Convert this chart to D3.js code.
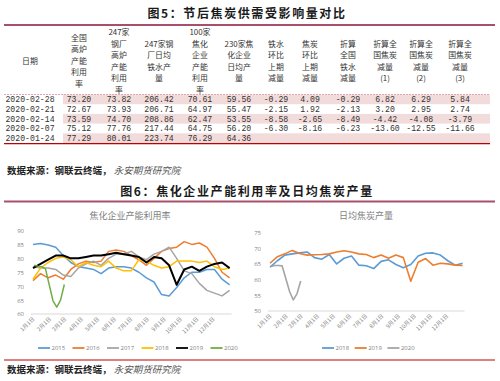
<!DOCTYPE html>
<html><head><meta charset="utf-8">
<script src="https://cdn.jsdelivr.net/npm/d3@7"></script>
<style>body{margin:0;background:#fff}svg{display:block}</style>
</head><body><svg id="c" width="500" height="381"></svg>
<script>
// ---------- DATA ----------
const tableHeaders = [
  ["日期"],
  ["全国","高炉","产能","利用","率"],
  ["247家","钢厂","高炉","产能","利用","率"],
  ["247家钢","厂日均","铁水产","量"],
  ["100家","焦化","企业","产能","利用","率"],
  ["230家焦","化企业","日均产","量"],
  ["铁水","环比","上期","减量"],
  ["焦炭","环比","上期","减量"],
  ["折算","全国","铁水","减量"],
  ["折算全","国焦炭","减量","(1)"],
  ["折算全","国焦炭","减量","(2)"],
  ["折算全","国焦炭","减量","(3)"]
];
const tableDates = ["2020-02-28","2020-02-21","2020-02-14","2020-02-07","2020-01-24"];
const blastUtilNational = [73.20,72.67,73.59,75.12,77.29];
const blastUtil247 = [73.82,73.93,74.70,77.76,80.01];
const hotMetal247 = [206.42,206.71,208.86,217.44,223.74];
const cokeUtil100 = [70.61,64.97,62.47,64.75,76.29];
const cokeOutput230 = [59.56,55.47,53.55,56.20,64.36];
const hotMetalChange = [-0.29,-2.15,-8.58,-6.30,null];
const cokeChange = [4.09,1.92,-2.65,-8.16,null];
const nationalHotMetalCut = [-0.29,-2.13,-8.49,-6.23,null];
const nationalCokeCut1 = [6.82,3.20,-4.42,-13.60,null];
const nationalCokeCut2 = [6.29,2.95,-4.08,-12.55,null];
const nationalCokeCut3 = [5.84,2.74,-3.79,-11.66,null];

const monthTickDays = [1,32,60,91,121,152,182,213,244,274,305,335];
const monthTickLabels = ["1月1日","2月1日","3月1日","4月1日","5月1日","6月1日","7月1日","8月1日","9月1日","10月1日","11月1日","12月1日"];

const weekDays = [1,15,29,43,57,71,85,99,113,127,141,155,169,183,197,211,225,239,253,267,281,295,309,323,337,351,365];
const util2015 = [85,85.3,84.8,84,81,78.5,77,76.5,76,74.5,76.5,77,77,76.5,75,73,71.5,67,66.5,69.5,73,75,75,76,76,72.5,70.5];
const util2016 = [72,74.5,73,74,72.5,76,78,79,78.5,79,82.5,83,82.5,81,79.5,77.5,80,82.5,83.5,84,86,85,85.5,84,80,75,73];
const util2017 = [77,76.5,76.5,76,74,73.5,76.5,78,79,77.5,80,81.5,81.5,82.5,80.5,79.5,81.5,82.5,84,80,75.5,74.5,71,68.5,67.5,66.5,68.5];
const util2018 = [72.5,76.5,78.5,80,80.5,79.5,77,78.5,77.5,77,79,76.5,75.5,75.5,79.5,79,77.5,76.5,77,79,79,79,78.5,79,77,76,76.5];
const util2019 = [76.5,78,79.5,81,81,80,80,80.5,81,81,81.5,82,81.5,81,80.5,78.5,80.5,80,77.5,70.5,76,77,75.5,77,78,78.5,76.5];
const days2020 = [3,10,17,24,38,45,52,59];
const util2020 = [77.5,77.2,77.0,76.29,64.75,62.47,64.97,70.61];

const output2018 = [64,66,67.8,68.2,68.5,68.8,67,66.5,68,65,66.8,67.5,64.6,64.4,63.5,65.8,66.3,64.8,63.8,64.8,67.5,68.4,68.5,67.8,66,64.6,65.2];
const output2019 = [65.2,67.3,68.2,69.3,68.3,67.8,67.9,68,68.2,68.8,69.2,68.8,68.2,68,67,67.8,66.8,67.8,67,59.5,65.5,66.7,64.6,65.2,65,64.6,64.5];
const output2020 = [64.2,64.5,64.5,64.36,56.20,53.55,55.47,59.56];

const utilYearsLeft = ["2015","2016","2017","2018","2019","2020"];
const utilColors = ["#5b9bd5","#ed7d31","#a5a5a5","#ffc000","#000000","#70ad47"];
const outputYears = ["2018","2019","2020"];
const outputColors = ["#5b9bd5","#ed7d31","#a5a5a5"];

// ---------- DRAW ----------
const svg = d3.select("#c");
const CJK = "'Noto Sans CJK SC','Noto Sans',sans-serif";
const fmt = v => v == null ? "" : v.toFixed(2);

svg.append("text").attr("x",247).attr("y",18).attr("text-anchor","middle")
  .attr("font-family",CJK).attr("font-weight",700).attr("font-size",12)
  .attr("letter-spacing",1.6).attr("fill","#1a1a1a").text("图5：节后焦炭供需受影响量对比");
svg.append("line").attr("x1",4).attr("x2",495).attr("y1",25).attr("y2",25)
  .attr("stroke","#a8506a").attr("stroke-width",2);

const colX = [30,79,119,159,200,239,276,310,348,385,421,460];
const headerMid = 61, lineH = 11.5;
const headerBottom = 94.5, rowH = 9.7;
const rowsData = tableDates.map((d,i)=>[d, blastUtilNational[i], blastUtil247[i], hotMetal247[i], cokeUtil100[i], cokeOutput230[i], hotMetalChange[i], cokeChange[i], nationalHotMetalCut[i], nationalCokeCut1[i], nationalCokeCut2[i], nationalCokeCut3[i]]);
const rowY = d3.scaleBand().domain(d3.range(rowsData.length)).range([headerBottom, headerBottom+rowH*rowsData.length]);

svg.selectAll("rect.rowbg").data(d3.range(rowsData.length).filter(i=>i%2===0)).join("rect")
  .attr("x",63).attr("width",427).attr("y",i=>rowY(i)).attr("height",rowY.bandwidth())
  .attr("fill","#f2dcdb");

tableHeaders.forEach((lines,ci)=>{
  lines.forEach((ln,li)=>{
    svg.append("text").attr("text-anchor","middle").attr("font-family",CJK)
      .attr("font-size",7.9).attr("fill","#333")
      .attr("x",colX[ci]).attr("y",headerMid + (li-(lines.length-1)/2)*lineH + 2.9).text(ln);
  });
});
svg.append("line").attr("x1",4).attr("x2",490).attr("y1",headerBottom).attr("y2",headerBottom)
  .attr("stroke","#e0a8b0").attr("stroke-width",1).attr("stroke-dasharray","2,1");

rowsData.forEach((r,ri)=>{
  r.forEach((v,ci)=>{
    svg.append("text").attr("x",colX[ci]).attr("y",rowY(ri)+rowY.bandwidth()/2+2.9)
      .attr("text-anchor","middle").attr("font-family","'Liberation Mono',monospace")
      .attr("font-size",8.2).attr("fill","#333").text(ci===0? v : fmt(v));
  });
});
const tableBottom = headerBottom + rowH*rowsData.length;
svg.append("line").attr("x1",4).attr("x2",490).attr("y1",tableBottom+0.6).attr("y2",tableBottom+0.6)
  .attr("stroke","#c00000").attr("stroke-width",1.2);

function source(y){
  const t = svg.append("text").attr("x",7).attr("y",y).attr("font-family",CJK).attr("font-size",9.5);
  t.append("tspan").attr("font-weight",700).attr("fill","#222").text("数据来源：钢联云终端，");
  t.append("tspan").attr("fill","#555").attr("font-style","italic").text(" 永安期货研究院");
}
source(174);

svg.append("text").attr("x",247).attr("y",196).attr("text-anchor","middle")
  .attr("font-family",CJK).attr("font-weight",700).attr("font-size",12)
  .attr("letter-spacing",1.6).attr("fill","#1a1a1a").text("图6：焦化企业产能利用率及日均焦炭产量");
svg.append("line").attr("x1",4).attr("x2",495).attr("y1",201.5).attr("y2",201.5)
  .attr("stroke","#a8506a").attr("stroke-width",2);

function chart(opts){
  const {x0,x1,yTop,yBot,dom,ticks,title,titleX,series,legendX,legendStep,labelX} = opts;
  const x = d3.scaleLinear().domain([1,365]).range([x0,x1]);
  const y = d3.scaleLinear().domain(dom).range([yBot,yTop]);
  const g = svg.append("g");
  g.append("text").attr("x",titleX).attr("y",219).attr("text-anchor","middle")
    .attr("font-family",CJK).attr("font-size",9).attr("fill","#7f7f7f").text(title);
  const ya = g.append("g").attr("transform",`translate(${labelX+3},0)`)
    .call(d3.axisLeft(y).tickValues(ticks).tickSize(0).tickPadding(3));
  ya.select(".domain").remove();
  ya.selectAll("text").attr("font-family","'Open Sans',sans-serif").attr("font-size",6).attr("fill","#7f7f7f");
  const xa = g.append("g").attr("transform",`translate(0,${yBot})`)
    .call(d3.axisBottom(x).tickValues(monthTickDays).tickFormat((d,i)=>monthTickLabels[i]).tickSize(0));
  xa.select(".domain").attr("stroke","#d9d9d9").attr("d",`M${x0-2},0H${x1+2}`);
  xa.selectAll("text").attr("font-family",CJK).attr("font-size",5.6).attr("fill","#7f7f7f")
    .attr("text-anchor","end").attr("transform","translate(0,4) rotate(-45)").attr("dy","0.35em").attr("y",0);
  const line = d3.line().x(d=>x(d[0])).y(d=>y(d[1]));
  series.forEach(s=>{
    const pts = s.days.map((d,i)=>[d,s.vals[i]]);
    g.append("path").attr("d",line(pts)).attr("fill","none").attr("stroke",s.color)
      .attr("stroke-width",s.w||1.5).attr("stroke-linejoin","round");
  });
  series.forEach((s,i)=>{
    const lx = legendX + i*legendStep;
    g.append("line").attr("x1",lx).attr("x2",lx+12).attr("y1",348).attr("y2",348)
      .attr("stroke",s.color).attr("stroke-width",1.8);
    g.append("text").attr("x",lx+13.5).attr("y",350.2).attr("font-family","'Open Sans',sans-serif")
      .attr("font-size",6).attr("fill","#7f7f7f").text(s.name);
  });
}

const leftVals = [util2015,util2016,util2017,util2018,util2019];
const leftSeries = utilYearsLeft.map((yr,i)=>({
  name: yr, color: utilColors[i],
  days: i<5 ? weekDays : days2020,
  vals: i<5 ? leftVals[i] : util2020,
  w: yr==="2019" ? 2 : 1.5
}));
chart({x0:33,x1:229.6,yTop:230.5,yBot:314,dom:[60,90],ticks:[60,65,70,75,80,85,90],
  title:"焦化企业产能利用率",titleX:130,series:leftSeries,legendX:38,legendStep:34.5,labelX:24});

const rightVals = [output2018,output2019,output2020];
const rightSeries = outputYears.map((yr,i)=>({
  name: yr, color: outputColors[i],
  days: i<2 ? weekDays : days2020,
  vals: rightVals[i], w:1.6
}));
chart({x0:270,x1:462.6,yTop:232.5,yBot:311,dom:[50,75],ticks:[50,55,60,65,70,75],
  title:"日均焦炭产量",titleX:366,series:rightSeries,legendX:322,legendStep:32.7,labelX:261});

svg.append("line").attr("x1",4).attr("x2",495).attr("y1",360).attr("y2",360)
  .attr("stroke","#c00000").attr("stroke-width",1.2);
source(373);
</script></body></html>
